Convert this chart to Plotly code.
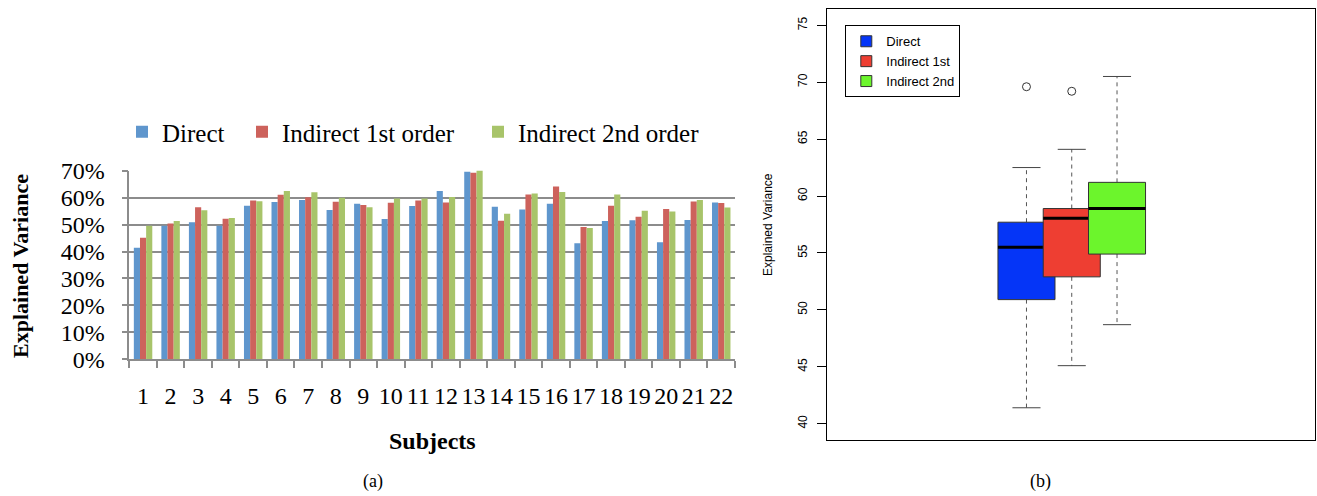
import math
import plotly.graph_objects as go

# ---------------- data ----------------
subjects = [str(i) for i in range(1, 23)]
direct = [41.4, 49.6, 50.9, 49.6, 57.0, 58.4, 59.1, 55.4, 57.7, 52.1, 56.9,
          62.5, 69.6, 56.6, 55.6, 57.7, 43.1, 51.3, 51.6, 43.4, 51.7, 58.2]
indirect1 = [45.1, 50.4, 56.4, 52.2, 58.9, 61.1, 60.1, 58.5, 57.3, 58.1, 58.9,
             58.2, 69.2, 51.4, 61.2, 64.1, 49.1, 57.0, 52.9, 55.8, 58.6, 58.0]
indirect2 = [49.6, 51.3, 55.3, 52.4, 58.7, 62.5, 62.0, 60.0, 56.4, 59.7, 59.7,
             60.2, 70.5, 54.0, 61.5, 62.1, 48.7, 61.2, 55.1, 54.9, 59.1, 56.3]

bar_names = ["Direct", "Indirect 1st order", "Indirect 2nd order"]
box_names = ["Direct", "Indirect 1st", "Indirect 2nd"]
series = [direct, indirect1, indirect2]
bar_colors = ["#5F96CD", "#CD625C", "#A8C46A"]
box_colors = ["#0535F7", "#EE3E32", "#6CF52C"]
box_pos = [1, 2, 3]
bar_ticks = [0, 10, 20, 30, 40, 50, 60, 70]
box_ticks = [40, 45, 50, 55, 60, 65, 70, 75]

W, H = 1317, 496
SERIF = "Liberation Serif"
SANS = "Liberation Sans"


def px_x(p):
    return p / W


def px_y(p):
    return 1 - p / H


fig = go.Figure()

# ---------------- (a) grouped bar chart ----------------
bar_legends = ["legend", "legend3", "legend4"]
for name, vals, col, lg in zip(bar_names, series, bar_colors, bar_legends):
    fig.add_trace(go.Bar(x=subjects, y=vals, name=name, marker_color=col,
                         marker_line_width=0, xaxis="x", yaxis="y",
                         legend=lg))


# ---------------- (b) box plot (Tukey hinges, as R boxplot) ----------------
def fivenum(v):
    s = sorted(v)
    n = len(s)
    n4 = math.floor((n + 3) / 2) / 2
    d = [1, n4, (n + 1) / 2, n + 1 - n4, n]
    return [0.5 * (s[math.floor(k) - 1] + s[math.ceil(k) - 1]) for k in d]


BOXW = 1.26
CAPW = 0.62
for name, vals, col, p in zip(box_names, series, box_colors, box_pos):
    mn, q1, med, q3, mx = fivenum(vals)
    iqr = q3 - q1
    lo_f, hi_f = q1 - 1.5 * iqr, q3 + 1.5 * iqr
    inside = [v for v in vals if lo_f <= v <= hi_f]
    outl = [v for v in vals if v < lo_f or v > hi_f]
    wlo, whi = min(inside), max(inside)
    # dashed whiskers
    fig.add_trace(go.Scatter(x=[p, p, None, p, p], y=[q3, whi, None, q1, wlo],
                             mode="lines", line=dict(color="#555555", width=1, dash="4px,4px"),
                             xaxis="x2", yaxis="y2", showlegend=False, hoverinfo="skip"))
    # caps
    fig.add_trace(go.Scatter(x=[p - CAPW / 2, p + CAPW / 2, None, p - CAPW / 2, p + CAPW / 2],
                             y=[whi, whi, None, wlo, wlo],
                             mode="lines", line=dict(color="#444444", width=1),
                             xaxis="x2", yaxis="y2", showlegend=False, hoverinfo="skip"))
    # box
    fig.add_trace(go.Scatter(x=[p - BOXW / 2, p + BOXW / 2, p + BOXW / 2, p - BOXW / 2, p - BOXW / 2],
                             y=[q1, q1, q3, q3, q1], mode="lines", fill="toself",
                             fillcolor=col, line=dict(color="#333333", width=1),
                             xaxis="x2", yaxis="y2", showlegend=False, hoverinfo="skip"))
    # median
    fig.add_trace(go.Scatter(x=[p - BOXW / 2, p + BOXW / 2], y=[med, med], mode="lines",
                             line=dict(color="black", width=3),
                             xaxis="x2", yaxis="y2", showlegend=False, hoverinfo="skip"))
    # outliers
    if outl:
        fig.add_trace(go.Scatter(x=[p] * len(outl), y=outl, mode="markers",
                                 marker=dict(symbol="circle-open", size=8,
                                             color="#333333", line=dict(width=1)),
                                 xaxis="x2", yaxis="y2", showlegend=False))

# legend entries of (b)
for name, col in zip(box_names, box_colors):
    fig.add_trace(go.Scatter(x=[None], y=[None], mode="markers", name=name,
                             marker=dict(symbol="square", size=11, color=col,
                                         line=dict(color="#333333", width=1)),
                             xaxis="x2", yaxis="y2", legend="legend2"))

bar_leg = dict(orientation="h", y=px_y(132), xanchor="left", yanchor="middle",
               font=dict(family=SERIF, size=25), bgcolor="rgba(0,0,0,0)", itemwidth=30)

fig.update_layout(
    width=W, height=H,
    margin=dict(l=0, r=0, t=0, b=0, autoexpand=False),
    paper_bgcolor="white", plot_bgcolor="white",
    barmode="group", bargap=0.33, bargroupgap=0,
    font=dict(family=SERIF, color="black"),
    xaxis=dict(domain=[px_x(129.3), px_x(735)], anchor="y", type="category",
               automargin=False,
               tickmode="array", tickvals=subjects, ticktext=subjects, tickangle=0,
               showline=True, linecolor="#8c8c8c", linewidth=1.5,
               ticks="outside", tickson="boundaries", ticklen=7, tickcolor="#8c8c8c",
               tickwidth=1.5, tickfont=dict(family=SERIF, size=24),
               ticklabelstandoff=14, showgrid=False),
    yaxis=dict(domain=[1 - 359.3 / H, 1 - 170.7 / H], anchor="x", range=[0, 70],
               automargin=False,
               tickmode="array", tickvals=bar_ticks,
               ticktext=[f"{v}%" for v in bar_ticks],
               showline=True, linecolor="#8c8c8c", linewidth=1.5,
               ticks="outside", ticklen=6, tickcolor="#8c8c8c", tickwidth=1.5,
               ticklabelstandoff=12,
               showgrid=True, gridcolor="#8c8c8c", gridwidth=1.5, zeroline=False,
               tickfont=dict(family=SERIF, size=24)),
    xaxis2=dict(domain=[px_x(827.3), px_x(1315.3)], anchor="y2", range=[-3.40, 7.38],
                automargin=False,
                showline=True, mirror=True, linecolor="black", linewidth=1,
                showticklabels=False, ticks="", showgrid=False, zeroline=False),
    yaxis2=dict(domain=[1 - 440 / H, 1 - 9.3 / H], anchor="x2", range=[38.57, 76.4],
                automargin=False,
                tickmode="array", tickvals=box_ticks, tickangle=-90,
                showline=True, mirror=True, linecolor="black", linewidth=1,
                ticks="outside", ticklen=9, tickcolor="black", tickwidth=1,
                ticklabelstandoff=6,
                showgrid=False, zeroline=False,
                tickfont=dict(family=SANS, size=12)),
    legend=dict(bar_leg, x=px_x(122)),
    legend3=dict(bar_leg, x=px_x(242)),
    legend4=dict(bar_leg, x=px_x(478)),
    legend2=dict(x=px_x(845.3), y=px_y(25.3), xanchor="left", yanchor="top",
                 font=dict(family=SANS, size=13), bgcolor="white",
                 bordercolor="black", borderwidth=1, itemwidth=30,
                 tracegroupgap=0),
    annotations=[
        # axis titles
        dict(text="Explained Variance", x=px_x(20), y=px_y(266), xref="paper", yref="paper",
             xanchor="center", yanchor="middle", textangle=-90, showarrow=False,
             font=dict(family=SERIF, size=22, weight="bold")),
        dict(text="Subjects", x=px_x(432), y=px_y(441), xref="paper", yref="paper",
             xanchor="center", yanchor="middle", showarrow=False,
             font=dict(family=SERIF, size=24, weight="bold")),
        dict(text="Explained Variance", x=px_x(768), y=px_y(225), xref="paper", yref="paper",
             xanchor="center", yanchor="middle", textangle=-90, showarrow=False,
             font=dict(family=SANS, size=12)),
        # panel captions
        dict(text="(a)", x=px_x(372.5), y=px_y(481), xref="paper", yref="paper",
             xanchor="center", yanchor="middle", showarrow=False,
             font=dict(family=SERIF, size=18)),
        dict(text="(b)", x=px_x(1040), y=px_y(481), xref="paper", yref="paper",
             xanchor="center", yanchor="middle", showarrow=False,
             font=dict(family=SERIF, size=18)),
    ],
)

fig.write_html("out.html", config={"displayModeBar": False},
               post_script="document.body.style.margin='0';document.body.style.overflow='hidden';")
